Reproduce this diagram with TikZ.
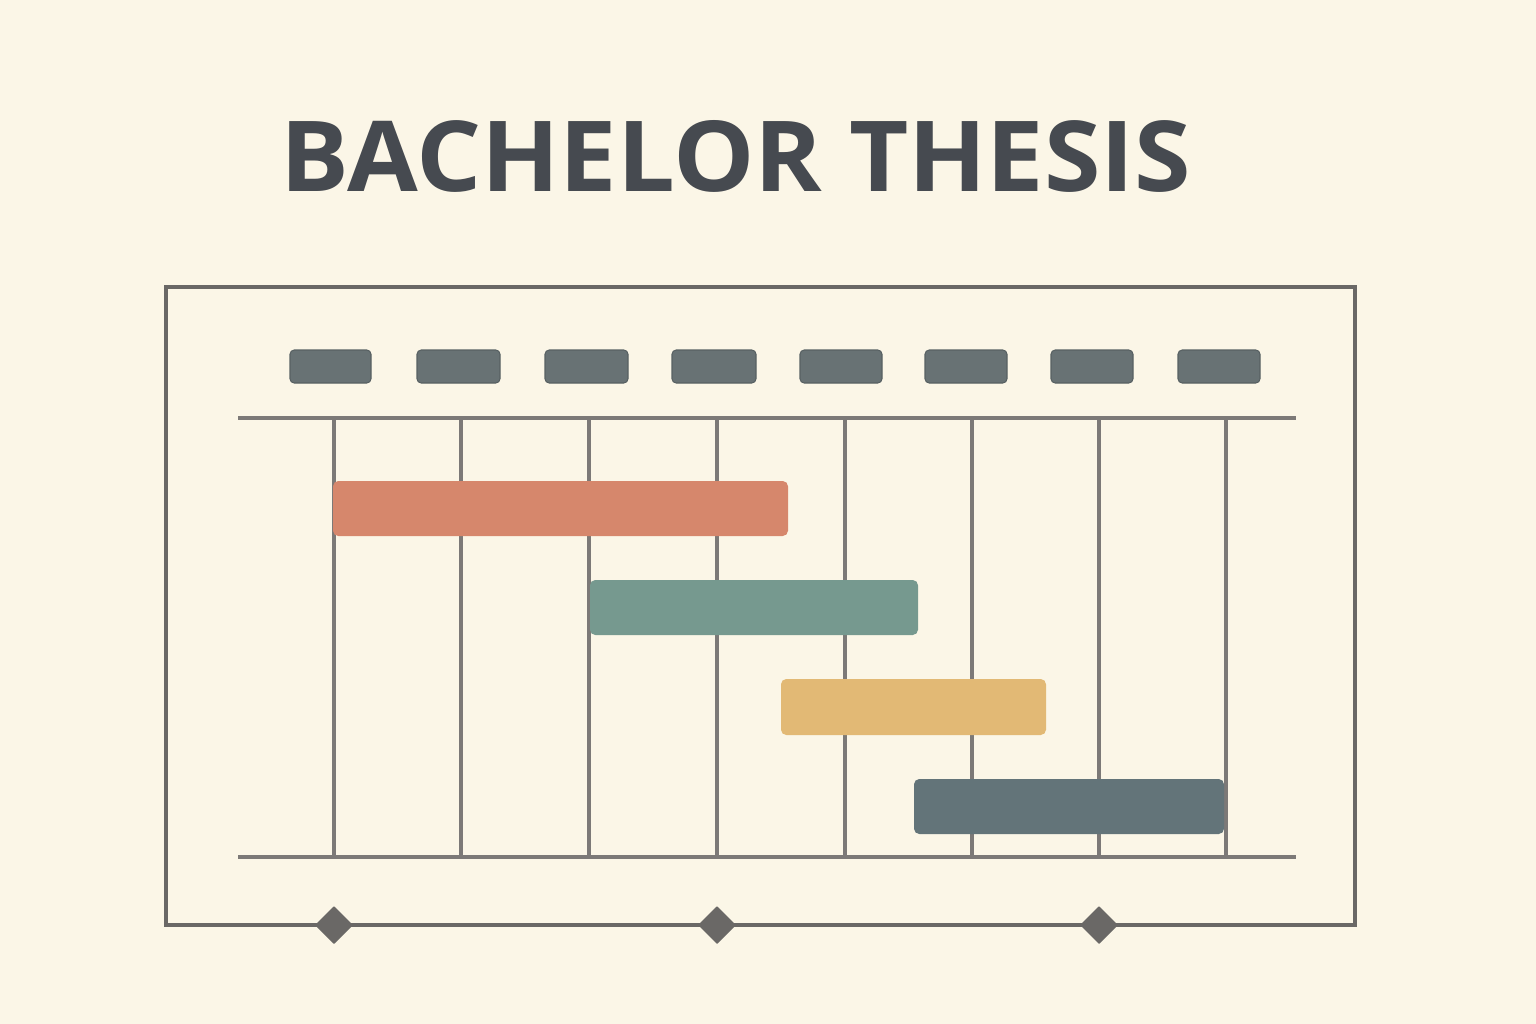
\documentclass[tikz,border=0pt]{standalone}
\usepackage{fontspec}
\setmainfont{Open Sans}
\usepackage{graphicx}
\definecolor{bgcream}{HTML}{FBF6E7}
\definecolor{inkdark}{HTML}{464A50}
\definecolor{framegray}{HTML}{6A6866}
\definecolor{gridgray}{HTML}{7C7977}
\definecolor{headgray}{HTML}{687274}
\definecolor{barorange}{HTML}{D6876C}
\definecolor{barteal}{HTML}{76998F}
\definecolor{baryellow}{HTML}{E2B975}
\definecolor{barslate}{HTML}{637479}
\tikzset{
  headbox/.style={fill=headgray, draw=headgray!85!black, line width=0.3pt, rounded corners=1.2pt},
  taskbar/.style={rounded corners=1.5pt},
  gridline/.style={draw=gridgray, line width=1pt},
  milestone/.style={fill=framegray, draw=framegray, line width=0.4pt, line join=round}
}

\begin{document}
\begin{tikzpicture}[x=0.01cm, y=-0.01cm]
        \fill[bgcream] (0,0) rectangle (1536,1024);
        \useasboundingbox (0,0) rectangle (1536,1024);
        % title
        \node[inner sep=0, anchor=base west, text=inkdark] (title) at (280,191)
          {\resizebox{9.1cm}{0.71cm}{\bfseries BACHELOR THESIS}};
        % outer frame
        \draw[framegray, line width=1.3pt] (166,287) rectangle (1355,925);
        % header blocks
        \foreach \xa/\xb [count=\i] in {290/371, 417/500, 545/628, 672/756, 800/882, 925/1007, 1051/1133, 1178/1260}
          \draw[headbox] (\xa,350) rectangle (\xb,383);
        % grid
        \foreach \x in {334, 461, 589, 717, 845, 972, 1099, 1226}
          \draw[gridline] (\x,418) -- (\x,857);
        \draw[gridline] (238,418) -- (1296,418);
        \draw[gridline] (238,857) -- (1296,857);
        % tasks
        \fill[taskbar, barorange] (333,481) rectangle (788,536);
        \fill[taskbar, barteal] (590,580) rectangle (918,635);
        \fill[taskbar, baryellow] (781,679) rectangle (1046,735);
        \fill[taskbar, barslate] (914,779) rectangle (1224,834);
        % milestones
        \foreach \x [count=\i] in {334, 717, 1099}
          \draw[milestone] (\x-18,925) -- (\x,907) -- (\x+18,925) -- (\x,943) -- cycle;
\end{tikzpicture}
\end{document}
